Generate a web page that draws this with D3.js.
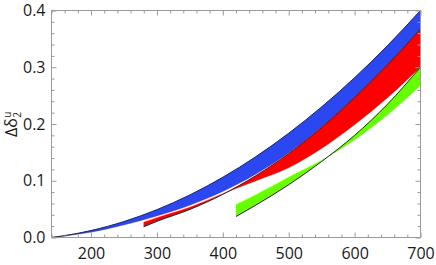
<!DOCTYPE html>
<html>
<head>
<meta charset="utf-8">
<script src="https://cdn.jsdelivr.net/npm/d3@7"></script>
<style>
  html, body { margin: 0; padding: 0; background: #fff; }
  svg { display: block; }
  .tick text { font-family: "Open Sans", "Noto Sans", sans-serif; font-size: 16px; fill: #1a1a1a; }
</style>
</head>
<body>
<svg id="chart" width="436" height="265"></svg>
<script>
// ---- data ----
const energyBlue = [140, 160, 200, 250, 300, 350, 400, 450, 500, 550, 600, 650, 700];
const blueUpper  = [0, 0.0033, 0.0122, 0.0281, 0.049, 0.075, 0.1061, 0.1423, 0.1837, 0.2301, 0.2816, 0.3383, 0.400];
const blueLower  = [0, 0.0025, 0.0092, 0.0221, 0.038, 0.057, 0.0811, 0.1113, 0.1487, 0.1941, 0.2466, 0.3043, 0.367];

const energyRed  = [280, 300, 350, 400, 450, 500, 550, 600, 650, 700];
const redEdge    = [0.019, 0.0285, 0.0495, 0.0761, 0.1088, 0.1477, 0.1938, 0.2466, 0.3043, 0.367];
const redOther   = [0.027, 0.035, 0.0535, 0.0773, 0.0995, 0.1227, 0.1568, 0.1986, 0.2463, 0.300];

const energyGreen = [420, 450, 500, 550, 600, 650, 700];
const greenEdge   = [0.037, 0.057, 0.093, 0.134, 0.180, 0.235, 0.300];
const greenOther  = [0.058, 0.075, 0.106, 0.136, 0.172, 0.216, 0.268];

const xMajor = [200, 300, 400, 500, 600, 700];
const xMinor = d3.range(140, 701, 20).filter(v => v % 100 !== 0);
const yMajor = [0.0, 0.1, 0.2, 0.3, 0.4];
const yMinor = d3.range(0, 0.401, 0.02).filter(v => Math.abs(v * 10 - Math.round(v * 10)) > 1e-6);

const colors = { blue: "#2b47f2", red: "#ff0000", green: "#66ff00", edge: "#2a2a2a", frame: "#9a9a9a" };

// ---- scales ----
const svg = d3.select("#chart");
const x = d3.scaleLinear().domain([140, 700]).range([51.5, 420.5]);
const y = d3.scaleLinear().domain([0, 0.4]).range([237.5, 10.5]);

svg.append("defs").append("clipPath").attr("id", "clip")
  .append("rect").attr("x", 51.5).attr("y", 10.5).attr("width", 369).attr("height", 227);

const plot = svg.append("g").attr("clip-path", "url(#clip)");

function band(E, a, b, color) {
  const rows = E.map((e, i) => ({ e, a: a[i], b: b[i] }));
  const area = d3.area().x(d => x(d.e)).y0(d => y(d.a)).y1(d => y(d.b)).curve(d3.curveMonotoneX);
  plot.append("path").datum(rows).attr("d", area).attr("fill", color).attr("stroke", color).attr("stroke-width", 0.3);
}
function edge(E, a) {
  const rows = E.map((e, i) => ({ e, v: a[i] }));
  const line = d3.line().x(d => x(d.e)).y(d => y(d.v)).curve(d3.curveMonotoneX);
  plot.append("path").datum(rows).attr("d", line).attr("fill", "none")
    .attr("stroke", colors.edge).attr("stroke-width", 1);
}

band(energyBlue, blueUpper, blueLower, colors.blue);
band(energyRed, redEdge, redOther, colors.red);
band(energyGreen, greenEdge, greenOther, colors.green);
edge(energyBlue, blueUpper);
edge(energyRed, redEdge);
edge(energyGreen, greenEdge);

// ---- axes ----
function styleAxis(g) {
  g.select(".domain").remove();
  g.selectAll(".tick line").attr("stroke", colors.frame);
}
// bottom
svg.append("g").attr("transform", "translate(0,237.5)")
  .call(d3.axisBottom(x).tickValues(xMajor).tickSize(-5).tickPadding(10).tickFormat(d3.format("d")))
  .call(styleAxis);
svg.append("g").attr("transform", "translate(0,237.5)")
  .call(d3.axisBottom(x).tickValues(xMinor).tickSize(-3).tickFormat(""))
  .call(styleAxis);
// top
svg.append("g").attr("transform", "translate(0,10.5)")
  .call(d3.axisTop(x).tickValues(xMajor).tickSize(-5).tickFormat(""))
  .call(styleAxis);
svg.append("g").attr("transform", "translate(0,10.5)")
  .call(d3.axisTop(x).tickValues(xMinor).tickSize(-3).tickFormat(""))
  .call(styleAxis);
// left
svg.append("g").attr("transform", "translate(51.5,0)")
  .call(d3.axisLeft(y).tickValues(yMajor).tickSize(-5).tickPadding(6).tickFormat(d3.format(".1f")))
  .call(styleAxis);
svg.append("g").attr("transform", "translate(51.5,0)")
  .call(d3.axisLeft(y).tickValues(yMinor).tickSize(-3).tickFormat(""))
  .call(styleAxis);
// right
svg.append("g").attr("transform", "translate(420.5,0)")
  .call(d3.axisRight(y).tickValues(yMajor).tickSize(-5).tickFormat(""))
  .call(styleAxis);
svg.append("g").attr("transform", "translate(420.5,0)")
  .call(d3.axisRight(y).tickValues(yMinor).tickSize(-3).tickFormat(""))
  .call(styleAxis);

// frame
svg.append("rect").attr("x", 51.5).attr("y", 10.5).attr("width", 369).attr("height", 227)
  .attr("fill", "none").attr("stroke", colors.frame).attr("stroke-width", 1);

// y title: Δδ₂ᵘ
const fam = "'Open Sans', 'Noto Sans', sans-serif";
const title = svg.append("g").attr("transform", "translate(17,137) rotate(-90)");
const main = title.append("text").attr("x", 0).attr("y", 0)
  .style("font-family", fam).style("font-size", "16px").attr("fill", "#1a1a1a")
  .text("Δδ");
const w = main.node().getComputedTextLength();
title.append("text").attr("x", w + 0.5).attr("y", -6.5)
  .style("font-family", fam).style("font-size", "10px").attr("fill", "#1a1a1a")
  .text("u");
title.append("text").attr("x", w + 0.5).attr("y", 3.5)
  .style("font-family", fam).style("font-size", "10px").attr("fill", "#1a1a1a")
  .text("2");
</script>
</body>
</html>
